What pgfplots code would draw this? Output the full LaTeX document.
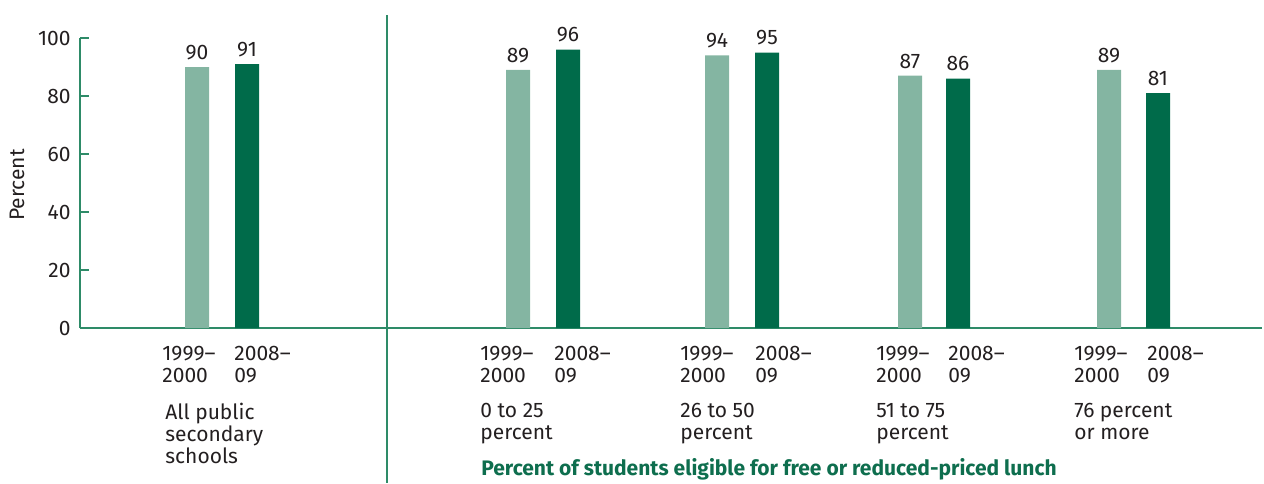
\documentclass[border=0pt]{standalone}
\usepackage{fontspec}
\setmainfont{Fira Sans}
\usepackage{pgfplots}
\pgfplotsset{compat=1.18}
\definecolor{light}{HTML}{84B5A2}
\definecolor{dark}{HTML}{006B4A}
\definecolor{axgreen}{HTML}{2E8B68}
\definecolor{txt}{HTML}{231F20}
\definecolor{ttl}{HTML}{0E6E4E}

\begin{document}
\begin{tikzpicture}
\fontsize{10.5}{11}\selectfont
\path[use as bounding box] (-40pt,-77.5pt) rectangle (592pt,164pt);
\begin{axis}[
  at={(0,0)}, anchor=origin,
  x=0.5pt, y=1.45pt,
  xmin=0, xmax=1182, ymin=0, ymax=100,
  clip=false,
  axis x line*=bottom, axis y line*=left,
  axis line style={draw=axgreen, line width=0.6pt},
  /pgf/number format/assume math mode=true,
  ytick={0,20,...,100},
  tick align=inside, major tick length=4.5pt,
  ytick style={draw=axgreen, line width=0.6pt},
  yticklabel style={anchor=east, inner sep=0pt, xshift=-4.5pt, text=txt},
  xtick={82,154,400,474,600,675,796,868,994,1067},
  xticklabels={1999–\\2000, 2008–\\09, 1999–\\2000, 2008–\\09, 1999–\\2000, 2008–\\09, 1999–\\2000, 2008–\\09, 1999–\\2000, 2008–\\09},
  xtick style={draw=none},
  xticklabel style={align=left, anchor=north west, inner sep=0pt, yshift=-9pt, text=txt},
  ylabel={Percent},
  every axis y label/.style={at={(axis description cs:-0.0533,0.493)}, rotate=90, anchor=center, text=txt},
  every node near coord/.append style={text=txt, anchor=south},
]

% 1999-2000
\addplot[ybar, bar width=12pt, bar shift=0pt, fill=light, draw=none, nodes near coords]
  coordinates {(117,90) (438,89) (637,94) (830,87) (1029,89)};
% 2008-09
\addplot[ybar, bar width=12pt, bar shift=0pt, fill=dark, draw=none, nodes near coords]
  coordinates {(167,91) (488,96) (687,95) (878,86) (1078,81)};

\draw[axgreen, line width=0.6pt] (axis cs:307,107.9) -- (axis cs:307,-53.4);

\node[anchor=north west, align=left, inner sep=0pt, text=txt] at (axis cs:85,-25.9) {All public\\secondary\\schools};
\node[anchor=north west, align=left, inner sep=0pt, text=txt] at (axis cs:400,-25.9) {0 to 25\\percent};
\node[anchor=north west, align=left, inner sep=0pt, text=txt] at (axis cs:600,-25.9) {26 to 50\\percent};
\node[anchor=north west, align=left, inner sep=0pt, text=txt] at (axis cs:796,-25.9) {51 to 75\\percent};
\node[anchor=north west, align=left, inner sep=0pt, text=txt] at (axis cs:994,-25.9) {76 percent\\or more};

\node[anchor=base west, inner sep=0pt, font=\bfseries, text=ttl] at (axis cs:401,-51.0) {Percent of students eligible for free or reduced-priced lunch};
\end{axis}
\end{tikzpicture}
\end{document}
